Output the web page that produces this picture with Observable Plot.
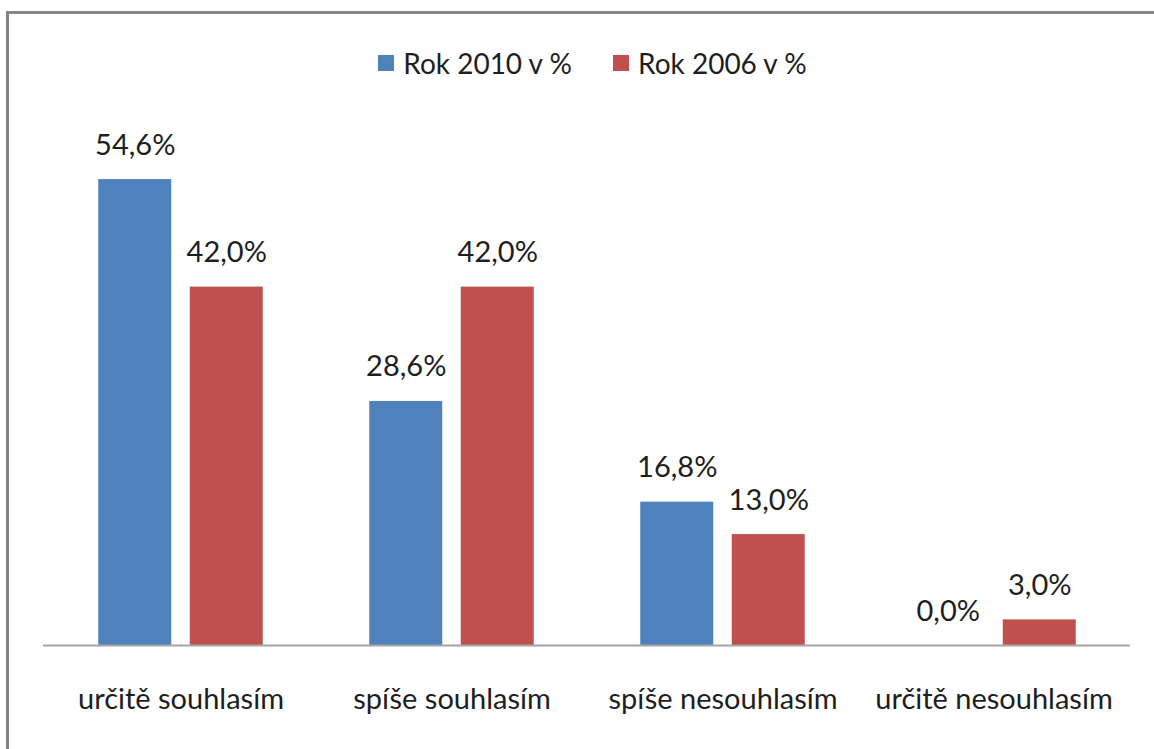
<!DOCTYPE html>
<html>
<head>
<meta charset="utf-8">
<script src="https://cdn.jsdelivr.net/npm/d3@7"></script>
<script src="https://cdn.jsdelivr.net/npm/@observablehq/plot@0.6"></script>
<style>
  html, body { margin: 0; padding: 0; background: #fff; }
  #wrap { position: relative; width: 1154px; height: 749px; overflow: hidden; font-family: Lato, "Open Sans", sans-serif; }
  #frame { position: absolute; left: 6px; top: 11px; width: 1300px; height: 900px; border: 3px solid #858585; box-sizing: border-box; }
  #legend { position: absolute; top: 46px; left: 0; width: 1154px; display: flex; justify-content: center; gap: 41px; font-size: 28px; color: #1e1e1e; padding-left: 31px; box-sizing: border-box; }
  #legend .item { display: flex; align-items: center; gap: 9px; }
  #legend .sw { width: 16px; height: 16px; display: inline-block; }
  #chart { position: absolute; left: 0; top: 0; }
</style>
</head>
<body>
<div id="wrap">
  <div id="frame"></div>
  <div id="legend"></div>
  <div id="chart"></div>
</div>
<script>
const categories = ["určitě souhlasím", "spíše souhlasím", "spíše nesouhlasím", "určitě nesouhlasím"];
const seriesNames = ["Rok 2010 v %", "Rok 2006 v %"];
const values2010 = [54.6, 28.6, 16.8, 0.0];
const values2006 = [42.0, 42.0, 13.0, 3.0];
const colors = ["#4F81BD", "#C0504D"];

const rows2010 = categories.map((c, i) => ({category: c, value: values2010[i]}));
const rows2006 = categories.map((c, i) => ({category: c, value: values2006[i]}));
const fmt = d => d3.format(".1f")(d.value).replace(".", ",") + "%";

const off = 45.75;
const labelStyle = {fontSize: 29, fill: "#1e1e1e", fontFamily: "Lato, 'Open Sans', sans-serif"};

const chart = Plot.plot({
  width: 1154,
  height: 749,
  marginLeft: 43,
  marginRight: 24,
  marginTop: 133,
  marginBottom: 104,
  style: {background: "transparent", fontFamily: "Lato, 'Open Sans', sans-serif"},
  x: {domain: categories, paddingInner: 0.7314, paddingOuter: 0.367},
  y: {domain: [0, 60], axis: null},
  marks: [
    Plot.barY(rows2010, {x: "category", y: "value", dx: -off, fill: colors[0]}),
    Plot.barY(rows2006, {x: "category", y: "value", dx: off, fill: colors[1]}),
    Plot.ruleY([0], {stroke: "#a6a6a6", strokeWidth: 2}),
    Plot.text(rows2010, {x: "category", y: "value", dx: -off, dy: -25, text: fmt, lineAnchor: "bottom", ...labelStyle}),
    Plot.text(rows2006, {x: "category", y: "value", dx: off, dy: -25, text: fmt, lineAnchor: "bottom", ...labelStyle}),
    Plot.axisX({anchor: "bottom", tickSize: 0, tickPadding: 43, fontSize: 29, label: null, color: "#1e1e1e"})
  ]
});
document.getElementById("chart").appendChild(chart);

const legend = document.getElementById("legend");
seriesNames.forEach((name, i) => {
  const item = document.createElement("div");
  item.className = "item";
  const sw = document.createElement("span");
  sw.className = "sw";
  sw.style.background = colors[i];
  const t = document.createElement("span");
  t.textContent = name;
  item.appendChild(sw);
  item.appendChild(t);
  legend.appendChild(item);
});
</script>
</body>
</html>
